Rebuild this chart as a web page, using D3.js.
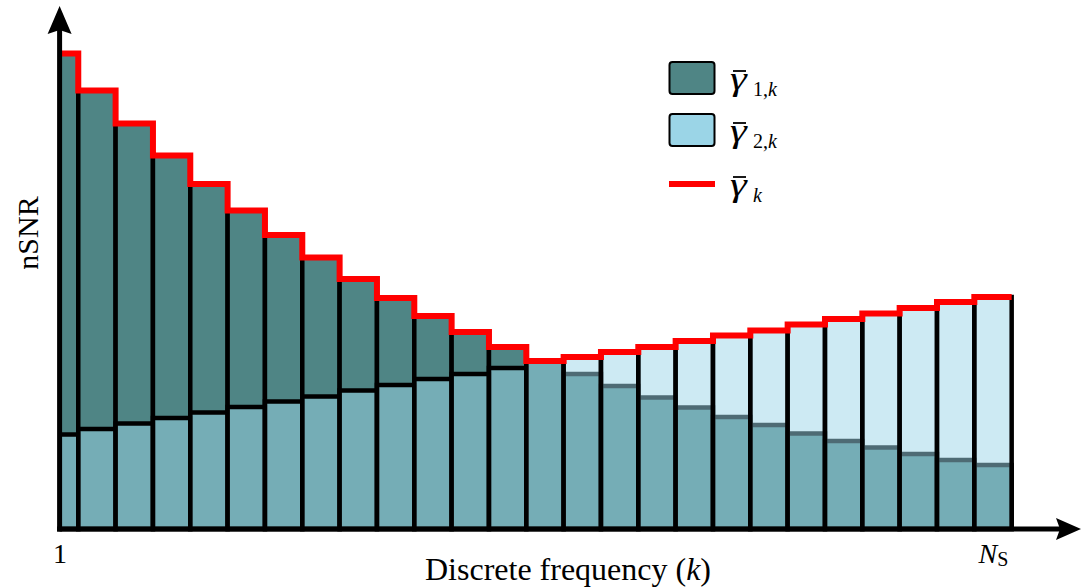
<!DOCTYPE html>
<html>
<head>
<meta charset="utf-8">
<script src="https://cdn.jsdelivr.net/npm/d3@7"></script>
<style>
  body { margin: 0; background: #ffffff; }
  svg { display: block; }
  text { font-family: "Liberation Serif", "Times New Roman", serif; fill: #000; }
</style>
</head>
<body>
<svg id="chart" width="1083" height="588"></svg>
<script>
// Discrete frequency bins k = 1 .. N_S
const bins = d3.range(1, 27);

// Normalised SNR of each link per frequency bin
const gamma1 = [95.1, 87.7, 81.1, 74.7, 69.0, 63.7, 58.8, 54.3, 50.0, 46.2, 42.6, 39.4, 36.4,
                33.6, 31.0, 28.6, 26.3, 24.3, 22.4, 20.8, 19.1, 17.6, 16.3, 15.0, 13.8, 12.8];
const gamma2 = [18.9, 20.0, 21.1, 22.2, 23.3, 24.4, 25.5, 26.5, 27.7, 28.8, 30.0, 31.0, 32.2,
                33.6, 34.4, 35.4, 36.4, 37.6, 38.7, 39.7, 40.9, 42.0, 43.1, 44.2, 45.4, 46.4];
// Combined nSNR: the better of the two per bin
const gammaBest = gamma1.map((v, i) => Math.max(v, gamma2[i]));

// Tick labels on the frequency axis
const tickValues = [1, 26];
const tickLabels = [{ main: "1", sub: "" }, { main: "N", sub: "S" }];

// Legend entries
const legendItems = [
  { type: "box", fill: "#4f8585", sub: "1,k" },
  { type: "box", fill: "#9bd5e7", sub: "2,k" },
  { type: "line", stroke: "#ff0000", sub: "k" }
];

const svg = d3.select("#chart");

const x = d3.scaleLinear().domain([1, 26]).range([59.6, 993]);
const y = d3.scaleLinear().domain([0, 100]).range([529, 29]);

// Bars sit centred on each bin; the first one is cut by the vertical axis
svg.append("defs").append("clipPath").attr("id", "plotClip")
  .append("rect").attr("x", x(1)).attr("y", 0).attr("width", 1083).attr("height", 588);

const plot = svg.append("g").attr("clip-path", "url(#plotClip)");

const barX = k => x(k - 0.5);
const barW = k => x(k + 0.5) - x(k - 0.5);

// Link 1 bars (opaque)
plot.append("g").selectAll("rect").data(bins).join("rect")
  .attr("x", k => barX(k))
  .attr("width", k => barW(k))
  .attr("y", (k, i) => y(gamma1[i]))
  .attr("height", (k, i) => y(0) - y(gamma1[i]))
  .attr("fill", "#4f8585")
  .attr("stroke", "#000")
  .attr("stroke-width", 4.5);

// Link 2 bars (half transparent, on top)
plot.append("g").selectAll("rect").data(bins).join("rect")
  .attr("x", k => barX(k))
  .attr("width", k => barW(k))
  .attr("y", (k, i) => y(gamma2[i]))
  .attr("height", (k, i) => y(0) - y(gamma2[i]))
  .attr("fill", "#9bd5e7")
  .attr("fill-opacity", 0.5)
  .attr("stroke", "#000")
  .attr("stroke-width", 4.5);

// Envelope of the best nSNR drawn as a staircase
const stepPts = [];
bins.forEach((k, i) => {
  stepPts.push([Math.max(barX(k), x(1)), y(gammaBest[i])]);
  stepPts.push([barX(k) + barW(k), y(gammaBest[i])]);
});
plot.append("path")
  .attr("d", d3.line()(stepPts))
  .attr("fill", "none")
  .attr("stroke", "#ff0000")
  .attr("stroke-width", 6)
  .attr("stroke-linejoin", "miter");

// Axes with arrow heads
const axisG = svg.append("g");
axisG.append("line")
  .attr("x1", x(1)).attr("x2", x(1))
  .attr("y1", y(0) + 2.5).attr("y2", 28)
  .attr("stroke", "#000").attr("stroke-width", 5);
axisG.append("path")
  .attr("d", `M${x(1)},6 L${x(1) - 12},34 L${x(1)},30 L${x(1) + 12},34 Z`)
  .attr("fill", "#000");
axisG.append("line")
  .attr("x1", x(1) - 2.5).attr("x2", 1060)
  .attr("y1", y(0)).attr("y2", y(0))
  .attr("stroke", "#000").attr("stroke-width", 5);
axisG.append("path")
  .attr("d", `M1081,${y(0)} L1056,${y(0) - 11} L1060,${y(0)} L1056,${y(0) + 11} Z`)
  .attr("fill", "#000");

// Frequency axis tick labels
const xAxis = d3.axisBottom(x).tickValues(tickValues).tickSize(0);
const xg = svg.append("g").attr("transform", `translate(0,${y(0)})`).call(xAxis);
xg.select(".domain").remove();
xg.selectAll(".tick text")
  .attr("y", 34).attr("dy", 0)
  .attr("font-size", 28)
  .attr("font-family", "Liberation Serif, serif")
  .attr("fill", "#000")
  .each(function (d, i) {
    const t = d3.select(this).text(null);
    const lab = tickLabels[i];
    if (lab.sub) {
      t.append("tspan").attr("font-style", "italic").text(lab.main);
      t.append("tspan").attr("font-size", 20).attr("dy", 3).text(lab.sub);
    } else {
      t.text(lab.main);
    }
  });

// Axis titles
svg.append("text")
  .attr("x", 568).attr("y", 580)
  .attr("text-anchor", "middle")
  .attr("font-size", 32)
  .call(t => {
    t.append("tspan").text("Discrete frequency (");
    t.append("tspan").attr("font-style", "italic").text("k");
    t.append("tspan").text(")");
  });

svg.append("text")
  .attr("transform", "translate(38,233) rotate(-90)")
  .attr("text-anchor", "middle")
  .attr("font-size", 30)
  .text("nSNR");

// Legend
const legend = svg.append("g");
const rowY = [78, 130, 184];
legendItems.forEach((item, i) => {
  const cy = rowY[i];
  if (item.type === "box") {
    legend.append("rect")
      .attr("x", 669.5).attr("y", cy - 16)
      .attr("width", 45).attr("height", 32)
      .attr("rx", 3).attr("ry", 3)
      .attr("fill", item.fill)
      .attr("stroke", "#000").attr("stroke-width", 2);
  } else {
    legend.append("line")
      .attr("x1", 669).attr("x2", 715)
      .attr("y1", cy).attr("y2", cy)
      .attr("stroke", item.stroke).attr("stroke-width", 6);
  }
  const baseY = cy + 12;
  // bar over gamma
  legend.append("line")
    .attr("x1", 733).attr("x2", 746)
    .attr("y1", cy - 7).attr("y2", cy - 7)
    .attr("stroke", "#000").attr("stroke-width", 1.8);
  // gamma symbol, widened slightly
  legend.append("text")
    .attr("transform", `translate(730,${baseY}) scale(1.25,1)`)
    .attr("font-style", "italic")
    .attr("font-size", 34)
    .text("γ");
  // subscript
  const t = legend.append("text")
    .attr("x", 753).attr("y", cy + 18)
    .attr("font-size", 20);
  if (item.sub === "k") {
    t.attr("font-style", "italic").text("k");
  } else {
    const parts = item.sub.split(",");
    t.append("tspan").text(parts[0] + ",");
    t.append("tspan").attr("font-style", "italic").text(parts[1]);
  }
});
</script>
</body>
</html>
